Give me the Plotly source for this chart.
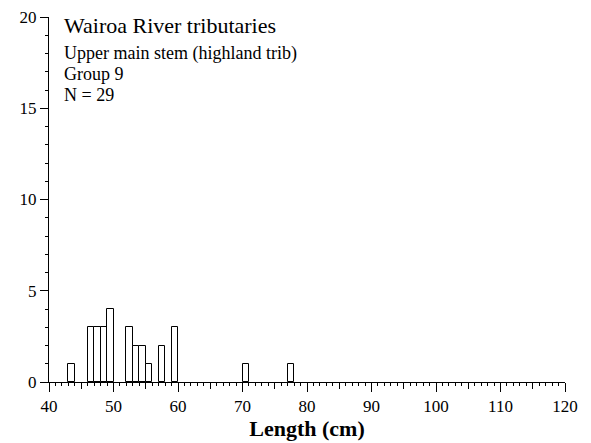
import plotly.graph_objects as go

# Length-frequency counts, 1 cm bins (left edge of each bin)
bin_left = [43, 46, 47, 48, 49, 52, 53, 54, 55, 57, 59, 70, 77]
counts = [1, 3, 3, 3, 4, 3, 2, 2, 1, 2, 3, 1, 1]
bin_width = 1

x_ticks = [40, 50, 60, 70, 80, 90, 100, 110, 120]
x_mid_ticks = [45, 55, 65, 75, 85, 95, 105, 115]
y_ticks = [0, 5, 10, 15, 20]

title_text = "Wairoa River tributaries"
info_lines = ["Upper main stem (highland trib)", "Group 9", "N = 29"]
x_label = "Length (cm)"

serif = "Liberation Serif"

fig = go.Figure()
fig.add_trace(go.Bar(
    x=[b + bin_width / 2 for b in bin_left],
    y=counts,
    width=[bin_width] * len(counts),
    marker=dict(color="white", line=dict(color="black", width=1)),
    hoverinfo="skip",
))
# invisible trace that carries the overlay axis with the 5 cm ticks
fig.add_trace(go.Scatter(x=[40, 120], y=[0, 0], xaxis="x2", mode="markers",
                         marker=dict(opacity=0), hoverinfo="skip", showlegend=False))

fig.update_layout(
    width=591, height=443,
    margin=dict(l=49, r=26, t=17, b=61, autoexpand=False),
    plot_bgcolor="white", paper_bgcolor="white",
    showlegend=False,
    bargap=0,
    font=dict(family=serif, color="black", size=17),
    xaxis=dict(
        range=[40, 120], tickvals=x_ticks, ticks="outside", ticklen=9,
        tickwidth=1, tickcolor="black", showline=True, linecolor="black",
        linewidth=1, showgrid=False, zeroline=False, automargin=False,
        tickfont=dict(size=17, family=serif),
        minor=dict(dtick=1, tick0=40, ticks="outside", ticklen=3,
                   tickcolor="black", showgrid=False),
        title=dict(text="<b>" + x_label + "</b>", font=dict(size=22, family=serif),
                   standoff=2),
    ),
    xaxis2=dict(
        range=[40, 120], overlaying="x", anchor="y", side="bottom",
        tickvals=x_mid_ticks, ticks="outside", automargin=False,
        ticklen=6, tickcolor="black", showticklabels=False, showgrid=False,
        zeroline=False, showline=False,
    ),
    yaxis=dict(
        range=[0, 20], tickvals=y_ticks, ticks="outside", ticklen=8,
        tickwidth=1, tickcolor="black", showline=True, linecolor="black",
        linewidth=1, showgrid=False, zeroline=False, automargin=False,
        tickfont=dict(size=17, family=serif),
        minor=dict(dtick=1, tick0=0, ticks="outside", ticklen=3,
                   tickcolor="black", showgrid=False),
    ),
)

plot_top, plot_bottom = 17, 382
plot_h = plot_bottom - plot_top


def paper_y(pix):
    return (plot_bottom - pix) / plot_h


fig.add_annotation(text=title_text, xref="paper", yref="paper",
                   x=0.025, y=paper_y(25.5), xanchor="left", yanchor="middle",
                   showarrow=False, font=dict(size=22, family=serif))
line_centres = [53, 74, 95]
for txt, yc in zip(info_lines, line_centres):
    fig.add_annotation(text=txt, xref="paper", yref="paper",
                       x=0.025, y=paper_y(yc), xanchor="left", yanchor="middle",
                       showarrow=False, font=dict(size=18, family=serif))

fig.write_html("out.html")
